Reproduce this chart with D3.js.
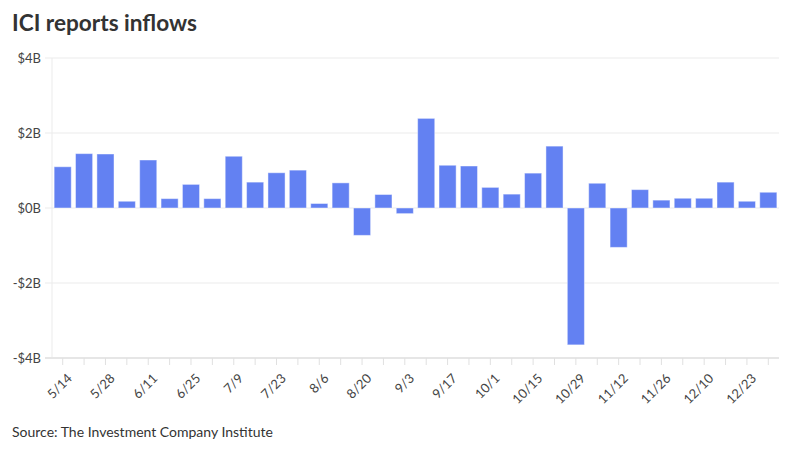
<!DOCTYPE html>
<html><head><meta charset="utf-8">
<script src="https://cdn.jsdelivr.net/npm/d3@7"></script>
<style>
body{margin:0;background:#fff;}
svg{font-family:Lato,"Open Sans",sans-serif;}
</style></head><body>
<svg id="c" width="800" height="450"></svg>
<script>
const weeks = ["5/14","5/21","5/28","6/4","6/11","6/18","6/25","7/2","7/9","7/16","7/23","7/30","8/6","8/13","8/20","8/27","9/3","9/10","9/17","9/24","10/1","10/8","10/15","10/22","10/29","11/5","11/12","11/19","11/26","12/3","12/10","12/17","12/23","12/30"];
const inflows = [1.10,1.45,1.44,0.18,1.28,0.25,0.63,0.25,1.38,0.69,0.94,1.01,0.12,0.67,-0.73,0.36,-0.15,2.39,1.14,1.12,0.55,0.37,0.93,1.65,-3.65,0.66,-1.05,0.49,0.21,0.26,0.26,0.69,0.18,0.42];
const yTicks = [-4,-2,0,2,4];

const svg = d3.select("#c");
const m = {l:52, r:779, t:58, b:358};
const x = d3.scaleBand().domain(weeks).range([m.l, m.r]).paddingInner(0.2).paddingOuter(0.1);
const y = d3.scaleLinear().domain([-4,4]).range([m.b, m.t]);

svg.append("text").attr("x",12).attr("y",31).attr("font-size",22.6).attr("font-weight",700)
  .attr("fill","#333").text("ICI reports inflows");

// grid
const gy = svg.append("g");
gy.selectAll("line").data(yTicks).join("line")
  .attr("x1",45).attr("x2",m.r).attr("y1",d=>y(d)).attr("y2",d=>y(d))
  .attr("stroke","#ebebeb").attr("stroke-width",1);
gy.selectAll("text").data(yTicks).join("text")
  .attr("x",41).attr("y",d=>y(d)).attr("dy","0.35em").attr("text-anchor","end")
  .attr("font-size",13).attr("fill","#444")
  .text(d=> (d<0?"-":"") + "$" + Math.abs(d) + "B");
svg.append("line").attr("x1",m.l).attr("x2",m.l).attr("y1",m.t).attr("y2",m.b)
  .attr("stroke","#ebebeb");

// bars
svg.append("g").selectAll("rect").data(weeks).join("rect")
  .attr("x",d=>x(d)).attr("width",x.bandwidth())
  .attr("y",(d,i)=>y(Math.max(0,inflows[i])))
  .attr("height",(d,i)=>Math.abs(y(inflows[i])-y(0)))
  .attr("fill","#6381f2").attr("stroke","rgba(255,255,255,0.45)").attr("stroke-width",1);

// x axis
const xa = svg.append("g").attr("transform",`translate(0,${m.b})`)
  .call(d3.axisBottom(x).tickSize(7).tickPadding(4).tickFormat((d,i)=> i%2===0 ? d : ""));
xa.select(".domain").attr("stroke","#e6e6e6").attr("stroke-width",2)
  .attr("d",`M45,0H${m.r}`);
xa.selectAll(".tick line").attr("stroke","#e0e0e0");
xa.selectAll(".tick text").attr("font-size",13).attr("fill","#444")
  .attr("font-family","Lato,sans-serif")
  .attr("x",0).attr("y",0).attr("dy","0.35em")
  .attr("text-anchor","end").attr("transform","translate(7,18) rotate(-45)");

svg.append("text").attr("x",12).attr("y",437).attr("font-size",14).attr("fill","#333")
  .text("Source: The Investment Company Institute");
</script>
</body></html>
